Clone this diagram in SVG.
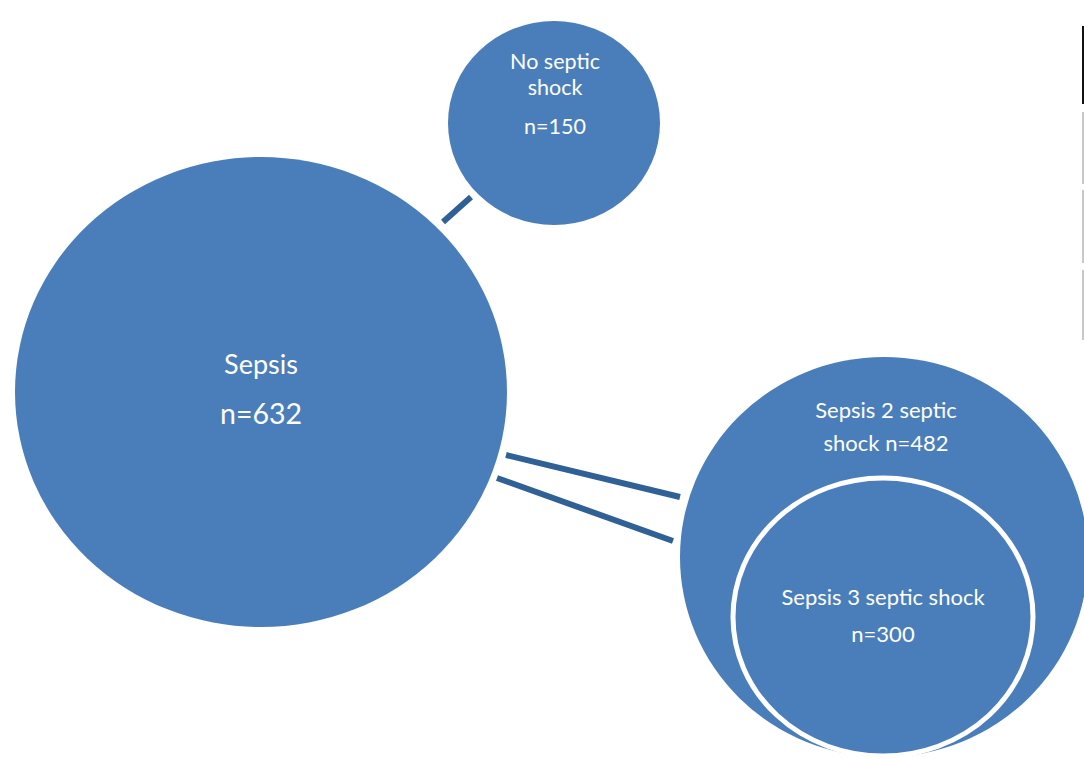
<svg xmlns="http://www.w3.org/2000/svg" width="1084" height="758" viewBox="0 0 1084 758">
  <style>
    .bubble { fill: #4a7ebb; }
    .inner { fill: #4a7ebb; stroke: #ffffff; stroke-width: 5; }
    .label { fill: #ffffff; font-family: Lato, "Open Sans", "Liberation Sans", sans-serif; text-anchor: middle; }
    .link { stroke: #2f6096; stroke-width: 6; stroke-linecap: butt; fill: none; }
    .edge-dark { stroke: #111111; stroke-width: 2; }
    .edge-light { stroke: #c8c8c8; stroke-width: 2; }
  </style>
  <rect width="1084" height="758" fill="#ffffff"/>

  <!-- margin rules along the right edge -->
  <g id="edge-rules">
    <line class="edge-dark" x1="1083" y1="26" x2="1083" y2="104"/>
    <line class="edge-light" x1="1083" y1="112" x2="1083" y2="184"/>
    <line class="edge-light" x1="1083" y1="190" x2="1083" y2="263"/>
    <line class="edge-light" x1="1083" y1="270" x2="1083" y2="340"/>
  </g>

  <g id="connectors">
    <line class="link" x1="443" y1="222" x2="471" y2="197"/>
    <line class="link" x1="506" y1="455" x2="680" y2="497"/>
    <line class="link" x1="497" y1="478" x2="673" y2="541"/>
  </g>

  <g id="sepsis">
    <ellipse class="bubble" cx="261" cy="392" rx="246" ry="235"/>
    <text class="label" x="261" y="374" font-size="27">Sepsis</text>
    <text class="label" x="261" y="424" font-size="28.5">n=632</text>
  </g>

  <g id="no-septic-shock">
    <ellipse class="bubble" cx="554" cy="123" rx="106" ry="102"/>
    <text class="label" x="555" y="69" font-size="21.5">No septic</text>
    <text class="label" x="555" y="95" font-size="21.5">shock</text>
    <text class="label" x="555" y="134" font-size="21.5">n=150</text>
  </g>

  <g id="sepsis2-septic-shock">
    <ellipse class="bubble" cx="884" cy="557" rx="204" ry="200"/>
    <text class="label" x="886" y="418" font-size="22">Sepsis 2 septic</text>
    <text class="label" x="886" y="451" font-size="22">shock n=482</text>
  </g>

  <g id="sepsis3-septic-shock">
    <ellipse class="inner" cx="883" cy="617" rx="150" ry="139"/>
    <text class="label" x="883" y="605" font-size="22">Sepsis 3 septic shock</text>
    <text class="label" x="883" y="642" font-size="22">n=300</text>
  </g>
</svg>
